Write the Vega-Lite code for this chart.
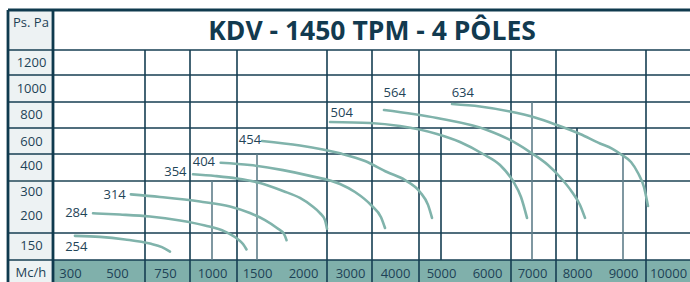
{
  "$schema": "https://vega.github.io/schema/vega-lite/v6.json",
  "width": 690,
  "height": 282,
  "autosize": "none",
  "padding": 0,
  "background": "white",
  "config": {"view": {"stroke": null}, "font": "Open Sans"},
  "datasets": {
    "panels": [
      {"part": "labels column", "x": 100, "x2": 200, "y": 50, "y2": 1400},
      {"part": "flow strip", "x": 200, "x2": 11000, "y": 50, "y2": 100}
    ],
    "rows": [
      {"y": 1300, "x": 100, "x2": 11000},
      {"y": 1100, "x": 100, "x2": 11000},
      {"y": 900, "x": 100, "x2": 11000},
      {"y": 700, "x": 100, "x2": 11000},
      {"y": 500, "x": 100, "x2": 11000},
      {"y": 175, "x": 100, "x2": 11000},
      {"y": 100, "x": 100, "x2": 11000}
    ],
    "midrow": [
      {"y": 350, "x": 100, "x2": 11000}
    ],
    "border_h": [
      {"y": 1400, "x": 100, "x2": 11000}
    ],
    "border_v": [
      {"x": 100, "y": 50, "y2": 1400},
      {"x": 200, "y": 50, "y2": 1400}
    ],
    "cols": [
      {"x": 625, "y": 50, "y2": 1300},
      {"x": 875, "y": 50, "y2": 1300},
      {"x": 1250, "y": 50, "y2": 1300},
      {"x": 2500, "y": 50, "y2": 1300},
      {"x": 3500, "y": 50, "y2": 1300},
      {"x": 4500, "y": 50, "y2": 1300},
      {"x": 6500, "y": 50, "y2": 1300},
      {"x": 7500, "y": 50, "y2": 1300},
      {"x": 9500, "y": 50, "y2": 1300},
      {"x": 5000, "y": 100, "y2": 700},
      {"x": 8000, "y": 100, "y2": 700}
    ],
    "subcols": [
      {"x": 1000, "y": 100, "y2": 350},
      {"x": 1500, "y": 100, "y2": 500},
      {"x": 7000, "y": 100, "y2": 900},
      {"x": 9000, "y": 100, "y2": 500}
    ],
    "curves": [
      {"c": "254", "x": 321, "y": 169}, {"c": "254", "x": 428, "y": 167}, {"c": "254", "x": 536, "y": 161.5}, {"c": "254", "x": 656, "y": 153}, {"c": "254", "x": 731, "y": 143}, {"c": "254", "x": 775, "y": 128},
      {"c": "284", "x": 398, "y": 207}, {"c": "284", "x": 513, "y": 202}, {"c": "284", "x": 656, "y": 198}, {"c": "284", "x": 825, "y": 192.4}, {"c": "284", "x": 960, "y": 185.4}, {"c": "284", "x": 1130, "y": 177}, {"c": "284", "x": 1250, "y": 163.5}, {"c": "284", "x": 1325, "y": 152}, {"c": "284", "x": 1369, "y": 135},
      {"c": "314", "x": 562, "y": 286}, {"c": "314", "x": 719, "y": 275}, {"c": "314", "x": 932, "y": 256}, {"c": "314", "x": 1180, "y": 235}, {"c": "314", "x": 1412, "y": 208}, {"c": "314", "x": 1587, "y": 193}, {"c": "314", "x": 1717, "y": 182}, {"c": "314", "x": 1793, "y": 173}, {"c": "314", "x": 1821, "y": 160},
      {"c": "354", "x": 892, "y": 371}, {"c": "354", "x": 1030, "y": 365.6}, {"c": "354", "x": 1250, "y": 357.8}, {"c": "354", "x": 1533, "y": 340}, {"c": "354", "x": 1783, "y": 300}, {"c": "354", "x": 1967, "y": 271}, {"c": "354", "x": 2188, "y": 237.5}, {"c": "354", "x": 2354, "y": 208}, {"c": "354", "x": 2458, "y": 193}, {"c": "354", "x": 2500, "y": 181},
      {"c": "404", "x": 1087, "y": 421}, {"c": "404", "x": 1412, "y": 400}, {"c": "404", "x": 1783, "y": 384}, {"c": "404", "x": 2146, "y": 366}, {"c": "404", "x": 2783, "y": 335}, {"c": "404", "x": 3114, "y": 296}, {"c": "404", "x": 3500, "y": 237.5}, {"c": "404", "x": 3696, "y": 197}, {"c": "404", "x": 3783, "y": 182},
      {"c": "454", "x": 1554, "y": 600}, {"c": "454", "x": 1967, "y": 565}, {"c": "454", "x": 2783, "y": 505}, {"c": "454", "x": 3341, "y": 436}, {"c": "454", "x": 3826, "y": 378}, {"c": "454", "x": 4208, "y": 353}, {"c": "454", "x": 4523, "y": 296}, {"c": "454", "x": 4705, "y": 242}, {"c": "454", "x": 4796, "y": 196},
      {"c": "504", "x": 2565, "y": 743}, {"c": "504", "x": 3455, "y": 736}, {"c": "504", "x": 4104, "y": 714}, {"c": "504", "x": 4909, "y": 654}, {"c": "504", "x": 5413, "y": 592}, {"c": "504", "x": 5913, "y": 500}, {"c": "504", "x": 6271, "y": 400}, {"c": "504", "x": 6548, "y": 350}, {"c": "504", "x": 6738, "y": 275}, {"c": "504", "x": 6881, "y": 196},
      {"c": "564", "x": 3761, "y": 833}, {"c": "564", "x": 4909, "y": 771}, {"c": "564", "x": 6000, "y": 685}, {"c": "564", "x": 6479, "y": 608}, {"c": "564", "x": 6952, "y": 515}, {"c": "564", "x": 7333, "y": 400}, {"c": "564", "x": 7595, "y": 362.5}, {"c": "564", "x": 7881, "y": 296}, {"c": "564", "x": 8065, "y": 242}, {"c": "564", "x": 8174, "y": 196},
      {"c": "634", "x": 5239, "y": 883}, {"c": "634", "x": 5848, "y": 862.5}, {"c": "634", "x": 6479, "y": 821}, {"c": "634", "x": 7062, "y": 775}, {"c": "634", "x": 7524, "y": 721}, {"c": "634", "x": 8065, "y": 654}, {"c": "634", "x": 8500, "y": 581}, {"c": "634", "x": 8761, "y": 542}, {"c": "634", "x": 8978, "y": 491}, {"c": "634", "x": 9174, "y": 427}, {"c": "634", "x": 9326, "y": 375}, {"c": "634", "x": 9456, "y": 320}, {"c": "634", "x": 9545, "y": 237.5}
    ],
    "curveLabels": [
      {"t": "254", "x": 327, "y": 144},
      {"t": "284", "x": 327, "y": 207},
      {"t": "314", "x": 490, "y": 283},
      {"t": "354", "x": 802, "y": 379},
      {"t": "404", "x": 954, "y": 430},
      {"t": "454", "x": 1412, "y": 608},
      {"t": "504", "x": 2820, "y": 811},
      {"t": "564", "x": 3994, "y": 962},
      {"t": "634", "x": 5474, "y": 962}
    ],
    "headers": [
      {"t": "Ps. Pa", "x": 151, "y": 1368},
      {"t": "Mc/h", "x": 151, "y": 71}
    ],
    "titleRow": [
      {"t": "KDV - 1450 TPM - 4 PÔLES", "x": 3500, "y": 1346}
    ]
  },
  "encoding": {
    "x": {
      "field": "x",
      "type": "quantitative",
      "scale": {
        "type": "linear",
        "zero": false,
        "nice": false,
        "domain": [0, 100, 200, 300, 500, 625, 750, 875, 1000, 1250, 1500, 2000, 2500, 3000, 3500, 4000, 4500, 5000, 6000, 6500, 7000, 7500, 8000, 9000, 9500, 10000, 11000],
        "range": [0, 8, 53, 70, 117, 145, 165, 190, 212, 237, 257, 303, 327, 350, 372, 395, 419, 441, 487, 511, 532, 556, 577, 623, 646, 668, 690]
      },
      "axis": {
        "orient": "bottom",
        "offset": -22,
        "zindex": 2,
        "values": [300, 500, 750, 1000, 1500, 2000, 3000, 4000, 5000, 6000, 7000, 8000, 9000, 10000],
        "format": "d",
        "domain": false,
        "ticks": false,
        "tickSize": 0,
        "grid": false,
        "title": null,
        "labelPadding": 13,
        "labelBaseline": "middle",
        "labelFont": "Open Sans",
        "labelFontSize": 13,
        "labelFontWeight": 500,
        "labelColor": "#1d4256",
        "labelOverlap": false,
        "labelFlush": false,
        "labelBound": false
      }
    },
    "y": {
      "field": "y",
      "type": "quantitative",
      "scale": {
        "type": "linear",
        "zero": false,
        "nice": false,
        "domain": [50, 100, 150, 175, 200, 300, 350, 400, 500, 600, 700, 800, 900, 1000, 1100, 1200, 1300, 1400],
        "range": [282, 260, 245, 233, 215, 191, 181, 165, 154, 141, 128, 114, 102, 88, 75, 62, 50, 10]
      },
      "axis": {
        "orient": "left",
        "offset": -53,
        "zindex": 2,
        "values": [150, 200, 300, 400, 600, 800, 1000, 1200],
        "format": "d",
        "domain": false,
        "ticks": false,
        "tickSize": 0,
        "grid": false,
        "title": null,
        "labelAlign": "center",
        "labelBaseline": "middle",
        "labelPadding": 22,
        "labelFont": "Open Sans",
        "labelFontSize": 13,
        "labelFontWeight": 500,
        "labelColor": "#1d4256",
        "labelOverlap": false,
        "labelFlush": false,
        "labelBound": false
      }
    }
  },
  "layer": [
    {
      "data": {"name": "panels"},
      "mark": {"type": "rect", "stroke": null},
      "encoding": {
        "x2": {"field": "x2"},
        "y2": {"field": "y2"},
        "color": {"field": "part", "type": "nominal", "scale": {"domain": ["labels column", "flow strip"], "range": ["#edf2f3", "#80b0ab"]}, "legend": null}
      }
    },
    {
      "data": {"name": "rows"},
      "mark": {"type": "rule", "color": "#163e52", "strokeWidth": 1.6},
      "encoding": {"x2": {"field": "x2"}}
    },
    {
      "data": {"name": "midrow"},
      "mark": {"type": "rule", "color": "#56737f", "strokeWidth": 2.2},
      "encoding": {"x2": {"field": "x2"}}
    },
    {
      "data": {"name": "cols"},
      "mark": {"type": "rule", "color": "#163e52", "strokeWidth": 1.6},
      "encoding": {"y2": {"field": "y2"}}
    },
    {
      "data": {"name": "subcols"},
      "mark": {"type": "rule", "color": "#5f7e8a", "strokeWidth": 1.6},
      "encoding": {"y2": {"field": "y2"}}
    },
    {
      "data": {"name": "border_h"},
      "mark": {"type": "rule", "color": "#0f3a4e", "strokeWidth": 2.8},
      "encoding": {"x2": {"field": "x2"}}
    },
    {
      "data": {"name": "border_v"},
      "mark": {"type": "rule", "color": "#0f3a4e", "strokeWidth": 2.8},
      "encoding": {"y2": {"field": "y2"}}
    },
    {
      "data": {"name": "curves"},
      "mark": {"type": "line", "interpolate": "monotone", "color": "#80b3ab", "strokeWidth": 2.6, "strokeCap": "round"},
      "encoding": {"detail": {"field": "c", "type": "nominal"}}
    },
    {
      "data": {"name": "curveLabels"},
      "mark": {"type": "text", "font": "Open Sans", "fontSize": 13, "color": "#1f4558", "align": "center", "baseline": "middle"},
      "encoding": {"text": {"field": "t", "type": "nominal"}}
    },
    {
      "data": {"name": "headers"},
      "mark": {"type": "text", "font": "Open Sans", "fontSize": 13, "fontWeight": 500, "color": "#1d4256", "align": "center", "baseline": "middle"},
      "encoding": {"text": {"field": "t", "type": "nominal"}}
    },
    {
      "data": {"name": "titleRow"},
      "mark": {"type": "text", "font": "Open Sans", "fontSize": 26.5, "fontWeight": "bold", "color": "#123a4f", "align": "center", "baseline": "middle"},
      "encoding": {"text": {"field": "t", "type": "nominal"}}
    }
  ]
}
